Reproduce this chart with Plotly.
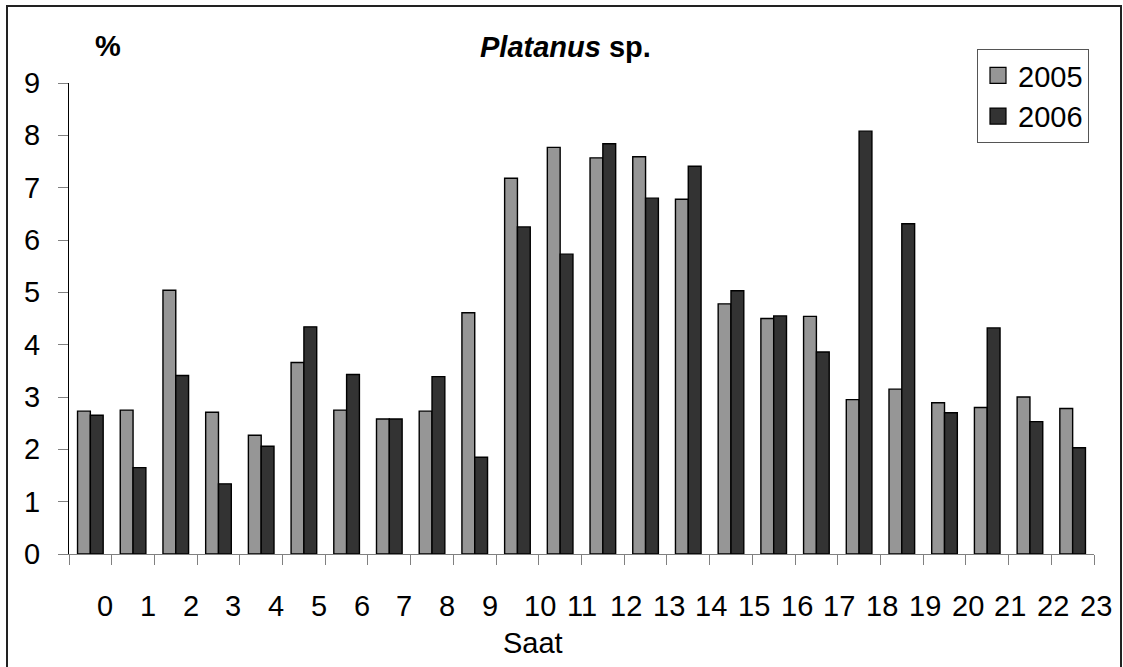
import plotly.graph_objects as go

# Hourly share (%) of Platanus sp. pollen, 2005 vs 2006
hours = list(range(24))
hour_labels = [str(h) for h in hours]
pct_2005 = [2.73, 2.75, 5.04, 2.71, 2.27, 3.66, 2.75, 2.58, 2.73, 4.61,
            7.18, 7.77, 7.57, 7.59, 6.78, 4.78, 4.50, 4.54, 2.95, 3.15,
            2.89, 2.80, 3.00, 2.78]
pct_2006 = [2.65, 1.65, 3.41, 1.34, 2.06, 4.34, 3.43, 2.58, 3.39, 1.85,
            6.25, 5.73, 7.84, 6.80, 7.41, 5.03, 4.55, 3.86, 8.08, 6.31,
            2.70, 4.32, 2.53, 2.03]
series_names = ["2005", "2006"]
y_ticks = list(range(10))

W, H = 1123, 667
L, R, T, B = 69, 1094, 83, 554   # plot area in pixels
FONT = "Liberation Sans, Arial, sans-serif"
C2005, C2006 = "#969696", "#333333"


def px_x(x):
    return (x - L) / (R - L)


def px_y(y):
    return (B - y) / (B - T)


fig = go.Figure()
for name, vals, col in [(series_names[0], pct_2005, C2005),
                        (series_names[1], pct_2006, C2006)]:
    fig.add_trace(go.Bar(x=hours, y=vals, name=name, showlegend=False,
                         marker=dict(color=col, line=dict(color="black", width=1.4))))
    # legend entry with a larger square swatch
    fig.add_trace(go.Scatter(x=[None], y=[None], mode="markers", name=name,
                             marker=dict(symbol="square", size=16, color=col,
                                         line=dict(color="black", width=1.2))))

annotations = []
# category labels, left-aligned just right of each category centre
for h, lab in zip(hours, hour_labels):
    annotations.append(dict(x=h, y=0, xref="x", yref="y", text=lab,
                            xanchor="left", yanchor="middle", xshift=5, yshift=-52,
                            showarrow=False, font=dict(family=FONT, size=29, color="black")))
annotations += [
    dict(x=px_x(533), y=px_y(643), xref="paper", yref="paper", text="Saat",
         showarrow=False, xanchor="center", yanchor="middle",
         font=dict(family=FONT, size=29, color="black")),
    dict(x=px_x(108), y=px_y(46), xref="paper", yref="paper", text="<b>%</b>",
         showarrow=False, xanchor="center", yanchor="middle",
         font=dict(family=FONT, size=29, color="black")),
    dict(x=px_x(565), y=px_y(47), xref="paper", yref="paper",
         text="<b><i>Platanus</i> sp.</b>",
         showarrow=False, xanchor="center", yanchor="middle",
         font=dict(family=FONT, size=29, color="black")),
]

fig.update_layout(
    width=W, height=H,
    margin=dict(l=L, r=W - R, t=T, b=H - B, pad=0),
    paper_bgcolor="white", plot_bgcolor="white",
    barmode="group", bargap=0.4, bargroupgap=0.0,
    font=dict(family=FONT, size=29, color="black"),
    xaxis=dict(range=[-0.5, 23.5], tickmode="array",
               tickvals=[h - 0.5 for h in hours] + [hours[-1] + 0.5],
               showticklabels=False, ticks="outside", ticklen=10, tickwidth=1,
               tickcolor="#808080", showline=True, linecolor="#808080", linewidth=1,
               showgrid=False, zeroline=False, fixedrange=True),
    yaxis=dict(range=[0, 9], tickmode="array", tickvals=y_ticks,
               ticktext=[str(v) for v in y_ticks],
               ticks="outside", ticklen=10, tickwidth=1, tickcolor="#808080",
               showline=True, linecolor="black", linewidth=1,
               showgrid=False, zeroline=False, ticklabelstandoff=12,
               tickfont=dict(family=FONT, size=29, color="black")),
    legend=dict(x=px_x(977), y=px_y(49), xanchor="left", yanchor="top",
                bgcolor="white", bordercolor="#555555", borderwidth=1,
                font=dict(family=FONT, size=29, color="black"),
                tracegroupgap=0, itemwidth=30),
    annotations=annotations,
    shapes=[dict(type="rect", xref="paper", yref="paper",
                 x0=px_x(7), x1=px_x(1121), y0=px_y(680), y1=px_y(6),
                 line=dict(color="#222222", width=2), layer="below")],
)

fig.write_html("out.html")
